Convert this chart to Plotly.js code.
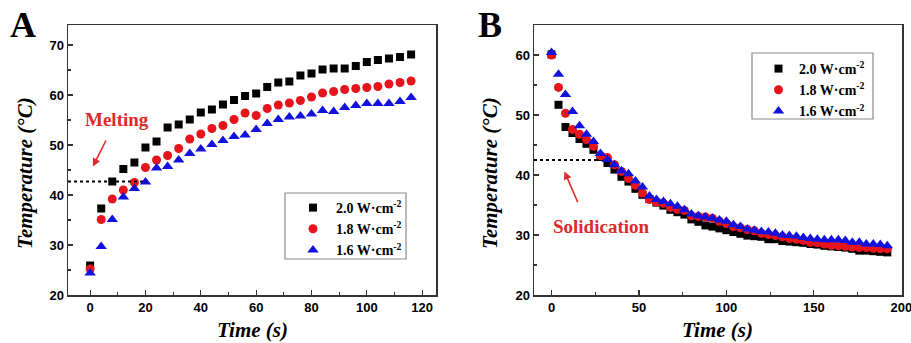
<!DOCTYPE html>
<html>
<head>
<meta charset="utf-8">
<script src="https://cdn.plot.ly/plotly-3.0.1.min.js"></script>
<style>html,body{margin:0;padding:0;background:#fff;}#chart{width:911px;height:343px;}</style>
</head>
<body>
<div id="chart"></div>
<script>
// ---------- Panel A : melting (heating) ----------
const timeA = [0,4,8,12,16,20,24,28,32,36,40,44,48,52,56,60,64,68,72,76,80,84,88,92,96,100,104,108,112,116];
const tempA_20 = [25.9,37.3,42.7,45.2,46.5,49.5,50.7,53.5,54.1,55.1,56.5,57.1,58.1,59.0,59.8,60.3,61.6,62.5,62.7,63.9,64.3,65.1,65.3,65.3,65.8,66.6,67.0,67.3,67.6,68.1];
const tempA_18 = [25.2,35.1,39.2,41.0,42.5,45.5,47.0,47.9,49.3,51.2,52.2,53.3,53.9,55.1,56.4,55.9,57.3,58.0,58.4,58.9,59.6,60.4,60.7,61.1,61.3,61.5,61.7,62.2,62.5,62.8];
const tempA_16 = [24.4,29.7,35.1,39.6,41.3,42.6,45.4,45.7,47.0,48.3,49.2,50.1,50.9,51.7,52.0,53.1,54.3,55.1,55.6,55.8,56.2,56.9,56.7,57.5,57.9,58.3,58.3,58.3,58.7,59.5];

// ---------- Panel B : solidification (cooling) ----------
const timeB = [0,4,8,12,16,20,24,28,32,36,40,44,48,52,56,60,64,68,72,76,80,84,88,92,96,100,104,108,112,116,120,124,128,132,136,140,144,148,152,156,160,164,168,172,176,180,184,188,192];
const tempB_20 = [60.1,51.7,48.0,47.0,46.0,45.2,44.2,43.0,42.0,40.9,39.7,38.9,37.7,36.7,36.0,35.4,34.9,34.2,33.8,33.4,32.6,32.2,31.6,31.4,31.1,30.8,30.5,30.2,29.9,29.8,29.7,29.3,29.3,29.0,28.9,28.8,28.7,28.5,28.4,28.2,28.1,28.0,27.9,27.7,27.4,27.4,27.3,27.2,27.1];
const tempB_18 = [60.0,54.6,50.3,47.6,46.8,45.9,44.8,43.2,42.9,41.7,40.6,39.4,38.3,37.0,35.9,35.5,35.3,34.6,34.3,34.1,33.2,33.1,33.0,32.8,32.3,31.9,31.4,31.2,30.9,30.7,30.3,30.1,29.9,29.7,29.4,29.3,29.1,28.8,28.7,28.5,28.3,28.2,28.1,28.0,27.9,27.9,27.8,27.7,27.7];
const tempB_16 = [60.4,56.8,53.4,50.6,48.2,46.8,45.6,43.6,42.6,41.7,40.7,40.2,39.0,38.0,36.5,35.9,35.6,35.2,34.8,34.2,33.5,33.2,33.0,32.8,32.5,32.3,31.7,31.4,31.0,30.8,30.6,30.5,30.3,30.0,29.9,29.8,29.6,29.4,29.3,29.2,29.2,29.2,29.1,28.8,28.8,28.5,28.5,28.4,28.2];

const seriesNames = ['2.0 W·cm<sup>-2</sup>', '1.8 W·cm<sup>-2</sup>', '1.6 W·cm<sup>-2</sup>'];
const panelLabels = ['A', 'B'];
const phaseLabels = ['Melting', 'Solidication'];
const axisTitleX = 'Time (s)';
const axisTitleY = 'Temperature (°C)';

// phase-change reference temperature lines (value, end time)
const meltLine = {y: 42.7, xEnd: 20.5};
const solidLine = {y: 42.5, xEnd: 27};

const RED = '#e8141c', BLUE = '#1212dc', BLACK = '#000000';
const markerStyles = [
  {symbol: 'square', size: 8, color: BLACK},
  {symbol: 'circle', size: 9, color: RED},
  {symbol: 'triangle-up', size: 10, color: BLUE}
];

const traces = [];
[tempA_20, tempA_18, tempA_16].forEach((ys, i) => {
  traces.push({x: timeA, y: ys, type: 'scatter', mode: 'markers', name: seriesNames[i],
    marker: Object.assign({line: {width: 0}}, markerStyles[i]), xaxis: 'x', yaxis: 'y', legend: 'legend'});
});
[tempB_20, tempB_18, tempB_16].forEach((ys, i) => {
  traces.push({x: timeB, y: ys, type: 'scatter', mode: 'markers', name: seriesNames[i],
    marker: Object.assign({line: {width: 0}}, markerStyles[i]), xaxis: 'x2', yaxis: 'y2', legend: 'legend2'});
});

const tickFont = {family: 'Liberation Sans, Arial, sans-serif', size: 13, color: '#000', weight: 'bold'};
const serif = 'Liberation Serif, Times New Roman, serif';
const AXC = '#333333';

function xAxis(domain, range, dtick, minor, anchor) {
  return {domain: domain, range: range, anchor: anchor, dtick: dtick, tick0: 0,
    showline: true, linecolor: AXC, linewidth: 1.5, mirror: true,
    ticks: 'inside', ticklen: 5, tickwidth: 1.2, tickcolor: AXC, ticklabeloverflow: 'allow',
    minor: {ticks: 'inside', ticklen: 3, dtick: minor, tick0: 0, tickcolor: AXC, tickwidth: 1.2},
    showgrid: false, zeroline: false, tickfont: tickFont};
}
function yAxis(domain, range, anchor) {
  return {domain: domain, range: range, anchor: anchor, dtick: 10, tick0: 0,
    showline: true, linecolor: AXC, linewidth: 1.5, mirror: true,
    ticks: 'inside', ticklen: 5, tickwidth: 1.2, tickcolor: AXC,
    minor: {ticks: 'inside', ticklen: 3, dtick: 5, tick0: 0, tickcolor: AXC, tickwidth: 1.2},
    showgrid: false, zeroline: false, tickfont: tickFont};
}

const px = v => v / 911, py = v => (343 - v) / 343;
function txt(x, y, text, size, extra) {
  return Object.assign({xref: 'paper', yref: 'paper', x: px(x), y: py(y), text: text, showarrow: false,
    xanchor: 'center', yanchor: 'middle', font: {family: serif, size: size, color: '#000'}}, extra || {});
}
const legFont = {family: serif, size: 14, color: '#000', weight: 'bold'};

const yDom = [48/343, 318/343];
const layout = {
  width: 911, height: 343,
  margin: {l: 0, r: 0, t: 0, b: 0},
  paper_bgcolor: '#fff', plot_bgcolor: '#fff',
  showlegend: true,
  xaxis: xAxis([68/911, 436/911], [-8, 125], 20, 10, 'y'),
  yaxis: yAxis(yDom, [20, 74], 'x'),
  xaxis2: xAxis([534/911, 902/911], [-10, 200.4], 50, 25, 'y2'),
  yaxis2: yAxis(yDom, [20, 65], 'x2'),
  legend: {x: px(290), y: py(192), xanchor: 'left', yanchor: 'top',
    borderwidth: 0, bgcolor: 'rgba(0,0,0,0)', itemwidth: 36, font: legFont},
  legend2: {x: px(758), y: py(53), xanchor: 'left', yanchor: 'top',
    borderwidth: 0, bgcolor: 'rgba(0,0,0,0)', itemwidth: 31, font: legFont},
  shapes: [
    {type: 'line', xref: 'x', yref: 'y', x0: -8, x1: meltLine.xEnd, y0: meltLine.y, y1: meltLine.y,
     line: {color: '#000', width: 2, dash: 'dot'}},
    {type: 'line', xref: 'x2', yref: 'y2', x0: -10, x1: solidLine.xEnd, y0: solidLine.y, y1: solidLine.y,
     line: {color: '#000', width: 2, dash: 'dot'}},
    // legend frames
    {type: 'rect', xref: 'paper', yref: 'paper', x0: px(285), x1: px(406), y0: py(193), y1: py(259),
     line: {color: '#8a8a8a', width: 1.2}, layer: 'below'},
    {type: 'rect', xref: 'paper', yref: 'paper', x0: px(752), x1: px(873), y0: py(53), y1: py(119),
     line: {color: '#8a8a8a', width: 1.2}, layer: 'below'}
  ],
  annotations: [
    txt(23, 25, '<b>' + panelLabels[0] + '</b>', 36),
    txt(490, 25, '<b>' + panelLabels[1] + '</b>', 36),
    txt(252, 330, '<b><i>' + axisTitleX + '</i></b>', 21),
    txt(717, 330, '<b><i>' + axisTitleX + '</i></b>', 21),
    txt(25, 173, '<b><i>' + axisTitleY + '</i></b>', 21, {textangle: -90}),
    txt(490, 173, '<b><i>' + axisTitleY + '</i></b>', 21, {textangle: -90}),
    // phase labels
    {xref: 'x', yref: 'y', x: 9.6, y: 55.1, text: '<b>' + phaseLabels[0] + '</b>', showarrow: false,
     xanchor: 'center', yanchor: 'middle', font: {family: serif, size: 19, color: '#dd2a2a'}},
    {xref: 'x2', yref: 'y2', x: 28.8, y: 31.4, text: '<b>' + phaseLabels[1] + '</b>', showarrow: false,
     xanchor: 'center', yanchor: 'middle', font: {family: serif, size: 19, color: '#dd2a2a'}},
    // arrows
    {xref: 'x', yref: 'y', axref: 'x', ayref: 'y', x: 1.0, y: 45.7, ax: 6.0, ay: 51.2, text: '',
     showarrow: true, arrowhead: 2, arrowsize: 1, arrowwidth: 1.6, arrowcolor: '#dd2a2a', standoff: 0},
    {xref: 'x2', yref: 'y2', axref: 'x2', ayref: 'y2', x: 7.4, y: 40.6, ax: 15.4, ay: 35.2, text: '',
     showarrow: true, arrowhead: 2, arrowsize: 1, arrowwidth: 1.6, arrowcolor: '#dd2a2a', standoff: 0}
  ]
};

Plotly.newPlot('chart', traces, layout, {displayModeBar: false, staticPlot: true});
</script>
</body>
</html>
